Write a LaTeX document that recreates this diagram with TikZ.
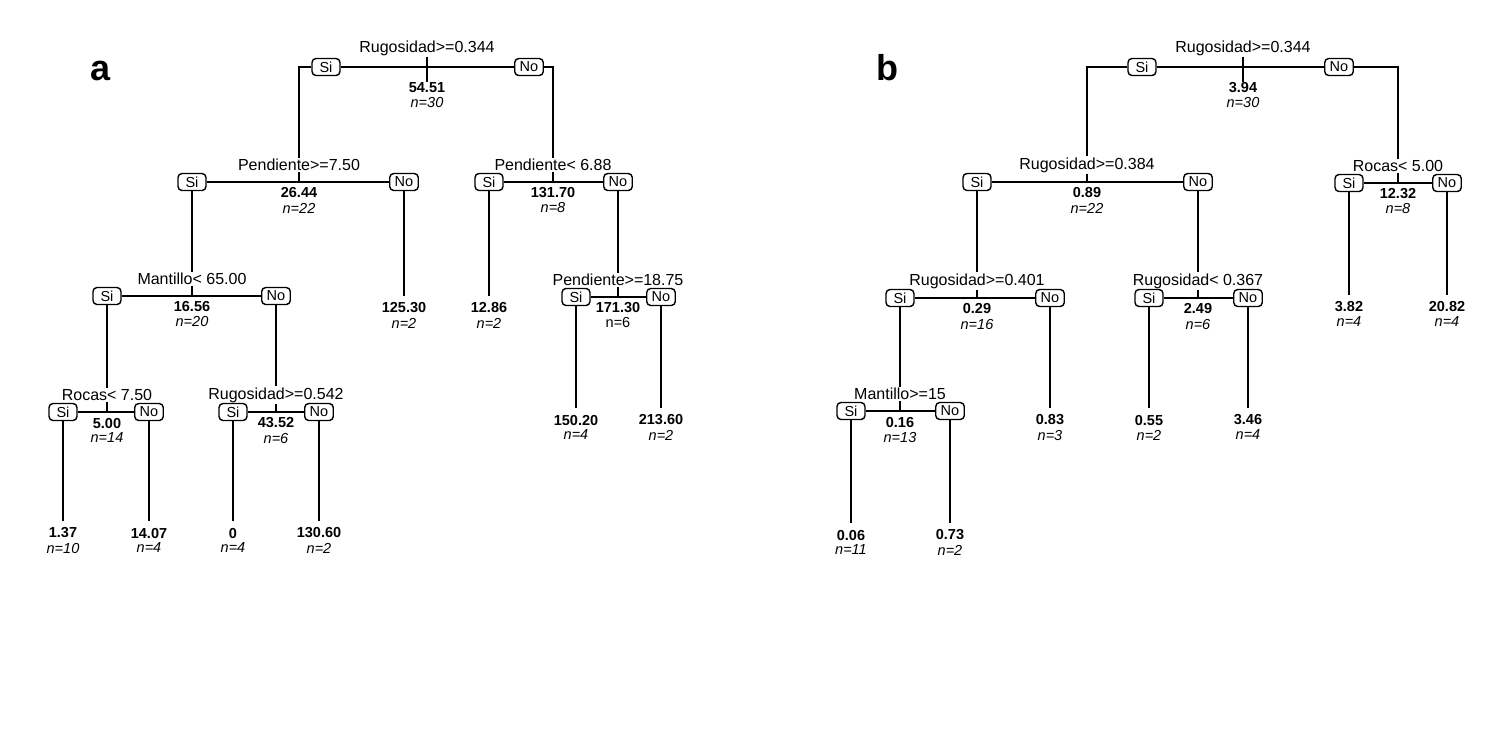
\documentclass[tikz,border=0pt]{standalone}
\usepackage{fontspec}
\setmainfont{Liberation Sans}
\tikzset{
 lbl/.style={font=\fontsize{16}{18}\selectfont, inner sep=1pt},
 val/.style={font=\bfseries\fontsize{14.5}{16}\selectfont, inner sep=1pt},
 cnt/.style={font=\itshape\fontsize{14.5}{16}\selectfont, inner sep=1pt},
 yn/.style={draw, rounded corners=4pt, line width=1.4pt, minimum width=28pt, minimum height=17pt, inner xsep=5pt, inner ysep=1pt, font=\fontsize{14.5}{16}\selectfont, fill=white},
 edge/.style={line width=1.8pt},
 leafedge/.style={line width=1.8pt, shorten >=6pt},
 tick/.style={line width=2.4pt},
 panel/.style={font=\bfseries\fontsize{36}{40}\selectfont, anchor=base}
}
% name, x, yline, xSi, xNo, label, value, count
\newcommand\splitnode[8]{%
 \node[lbl] (#1l) at (#2,#3-17) {#6};
 \node[yn] (#1s) at (#4,#3) {Si};
 \node[yn] (#1n) at (#5,#3) {No};
 \coordinate (#1t) at (#2,#3);
 \node[val] (#1v) at (#2,#3+11) {#7};
 \node[cnt] (#1c) at (#2,#3+26) {#8};
 \draw[edge] (#1s) -- (#1n);
 \draw[edge] (#1l) -- (#1t);
}
% name, x, y, value, count
\newcommand\leafnode[5]{%
 \node[val] (#1v) at (#2,#3) {#4};
 \node[cnt] (#1c) at (#2,#3+15) {#5};
}
\begin{document}
\begin{tikzpicture}[x=1pt,y=-1pt]
\useasboundingbox (0,0) rectangle (1508,740);

% ---------------- panel a ----------------
\node[panel] (pa) at (101,80) {a};
\node[lbl] (A0l) at (427,48) {Rugosidad>=0.344};
\node[yn] (A0s) at (326,67) {Si};
\node[yn] (A0n) at (529,67) {No};
\node[val] (A0v) at (427,88) {54.51};
\node[cnt] (A0c) at (427,103) {n=30};
\coordinate (A0L) at (299,67);
\coordinate (A0R) at (553,67);
\draw[edge] (A0s) -- (A0n);
\draw[tick] (A0l.south) -- (A0v.north);

\splitnode{A1}{299}{182}{192}{404}{Pendiente>=7.50}{26.44}{n=22}
\splitnode{A2}{553}{182}{489}{618}{Pendiente< 6.88}{131.70}{n=8}
\splitnode{A3}{192}{296}{107}{276}{Mantillo< 65.00}{16.56}{n=20}
\splitnode{A4}{618}{297}{576}{661}{Pendiente>=18.75}{171.30}{\upshape n=6}
\splitnode{A5}{107}{412}{63}{149}{Rocas< 7.50}{5.00}{n=14}
\splitnode{A6}{276}{412}{233}{319}{Rugosidad>=0.542}{43.52}{n=6}

\leafnode{LA1}{404}{308}{125.30}{n=2}
\leafnode{LA2}{489}{308}{12.86}{n=2}
\leafnode{LA3}{576}{420}{150.20}{n=4}
\leafnode{LA4}{661}{420}{213.60}{n=2}
\leafnode{LA5}{63}{533}{1.37}{n=10}
\leafnode{LA6}{149}{533}{14.07}{n=4}
\leafnode{LA7}{233}{533}{0}{n=4}
\leafnode{LA8}{319}{533}{130.60}{n=2}

\draw[edge] (A0s.west) -- (A0L) -- (A1l.north);
\draw[edge] (A0n.east) -- (A0R) -- (A2l.north);
\draw[edge] (A1s.south) -- (A3l.north);
\draw[leafedge] (A1n.south) -- (LA1v.north);
\draw[leafedge] (A2s.south) -- (LA2v.north);
\draw[edge] (A2n.south) -- (A4l.north);
\draw[edge] (A3s.south) -- (A5l.north);
\draw[edge] (A3n.south) -- (A6l.north);
\draw[leafedge] (A4s.south) -- (LA3v.north);
\draw[leafedge] (A4n.south) -- (LA4v.north);
\draw[leafedge] (A5s.south) -- (LA5v.north);
\draw[leafedge] (A5n.south) -- (LA6v.north);
\draw[leafedge] (A6s.south) -- (LA7v.north);
\draw[leafedge] (A6n.south) -- (LA8v.north);

% ---------------- panel b ----------------
\node[panel] (pb) at (887,80) {b};
\node[lbl] (B0l) at (1243,48) {Rugosidad>=0.344};
\node[yn] (B0s) at (1142,67) {Si};
\node[yn] (B0n) at (1339,67) {No};
\node[val] (B0v) at (1243,88) {3.94};
\node[cnt] (B0c) at (1243,103) {n=30};
\coordinate (B0L) at (1087,67);
\coordinate (B0R) at (1398,67);
\draw[edge] (B0s) -- (B0n);
\draw[tick] (B0l.south) -- (B0v.north);

\splitnode{B1}{1087}{182}{977}{1198}{Rugosidad>=0.384}{0.89}{n=22}
\splitnode{B2}{1398}{183}{1349}{1447}{Rocas< 5.00}{12.32}{n=8}
\splitnode{B3}{977}{298}{900}{1050}{Rugosidad>=0.401}{0.29}{n=16}
\splitnode{B4}{1198}{298}{1149}{1248}{Rugosidad< 0.367}{2.49}{n=6}
\splitnode{B5}{900}{411}{851}{950}{Mantillo>=15}{0.16}{n=13}

\leafnode{LB1}{1349}{307}{3.82}{n=4}
\leafnode{LB2}{1447}{307}{20.82}{n=4}
\leafnode{LB3}{1050}{420}{0.83}{n=3}
\leafnode{LB4}{1149}{420}{0.55}{n=2}
\leafnode{LB5}{1248}{420}{3.46}{n=4}
\leafnode{LB6}{851}{535}{0.06}{n=11}
\leafnode{LB7}{950}{535}{0.73}{n=2}

\draw[edge] (B0s.west) -- (B0L) -- (B1l.north);
\draw[edge] (B0n.east) -- (B0R) -- (B2l.north);
\draw[edge] (B1s.south) -- (B3l.north);
\draw[edge] (B1n.south) -- (B4l.north);
\draw[leafedge] (B2s.south) -- (LB1v.north);
\draw[leafedge] (B2n.south) -- (LB2v.north);
\draw[edge] (B3s.south) -- (B5l.north);
\draw[leafedge] (B3n.south) -- (LB3v.north);
\draw[leafedge] (B4s.south) -- (LB4v.north);
\draw[leafedge] (B4n.south) -- (LB5v.north);
\draw[leafedge] (B5s.south) -- (LB6v.north);
\draw[leafedge] (B5n.south) -- (LB7v.north);
\end{tikzpicture}
\end{document}
